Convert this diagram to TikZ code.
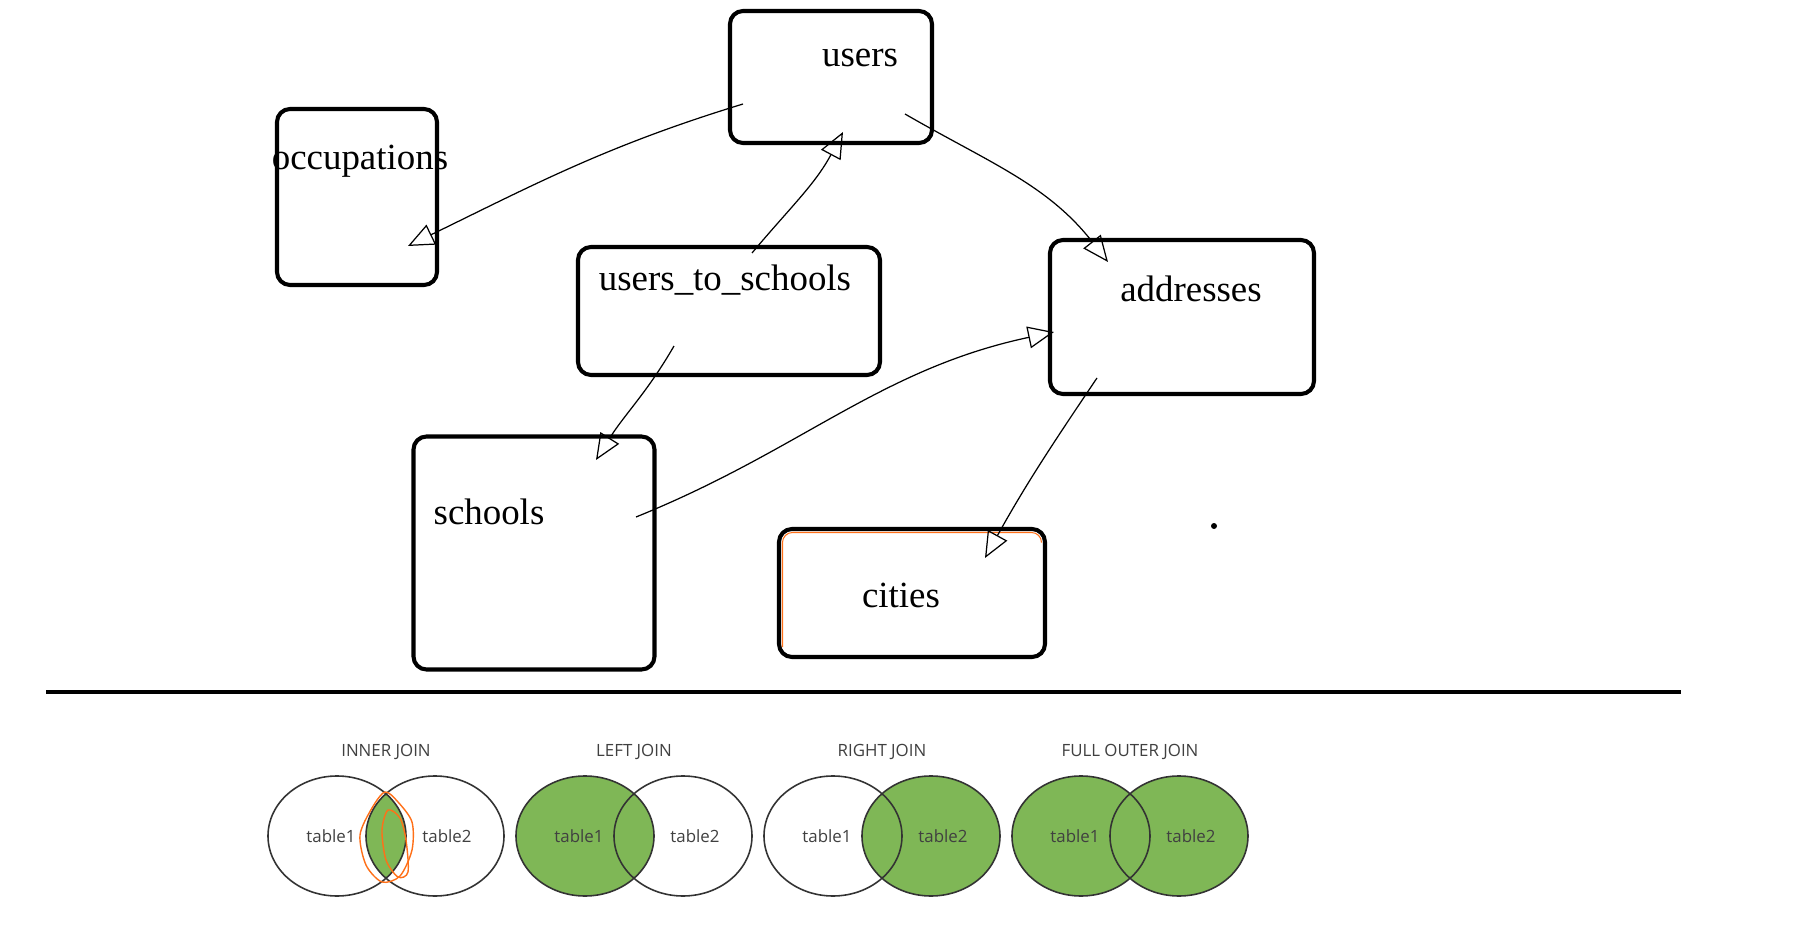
\documentclass[tikz,border=0pt]{standalone}
\usepackage{fontspec}
\setmainfont{Liberation Serif}
\newfontfamily\vennfont{Open Sans}
\usepackage{tikz}
\usetikzlibrary{
  arrows.meta,
  positioning
}
\definecolor{venngreen}{RGB}{127,183,86}
\definecolor{scribble}{RGB}{255,112,24}

\begin{document}
\begin{tikzpicture}[
  table/.style={
    rectangle,
    draw=black,
    rounded corners=0.13cm,
    line width=1.15pt,
    inner sep=0pt,
  },
  tname/.style={
    font=\fontsize{10.5}{12}\selectfont,
    inner sep=0pt,
  },
  link/.style={-{Triangle[open, length=0.26cm, width=0.22cm]}, line width=0.35pt, black},
  venn/.style={draw=black!80, line width=0.45pt},
  vennlabel/.style={
    font=\vennfont\fontsize{4.8}{6}\selectfont,
    text=black!75,
    inner sep=0pt,
  },
  pen/.style={draw=scribble, line width=0.4pt},
]

\path[use as bounding box, fill=white] (0,0) rectangle (18.20,-9.38);

% ── Tables ──
\node[table, minimum width=1.60cm, minimum height=1.76cm] (occupations) at (3.57,-1.97) {};
\node[tname] (occupations-lbl) at (3.60,-1.61) {occupations};

\node[table, minimum width=2.02cm, minimum height=1.32cm] (users) at (8.31,-0.77) {};
\node[tname] (users-lbl) at (8.60,-0.58) {users};

\node[table, minimum width=3.02cm, minimum height=1.28cm] (uts) at (7.29,-3.11) {};
\node[tname] (uts-lbl) at (7.25,-2.80) {users\_to\_schools};

\node[table, minimum width=2.64cm, minimum height=1.54cm] (addresses) at (11.82,-3.17) {};
\node[tname] (addresses-lbl) at (11.91,-2.89) {addresses};

\node[table, minimum width=2.41cm, minimum height=2.33cm] (schools) at (5.34,-5.53) {};
\node[tname] (schools-lbl) at (4.89,-5.12) {schools};

\node[table, minimum width=2.66cm, minimum height=1.28cm] (cities) at (9.12,-5.93) {};
\node[tname] (cities-lbl) at (9.01,-5.95) {cities};
\draw[pen, line width=0.3pt, rounded corners=0.1cm]
  (7.825,-6.47) -- (7.825,-5.325) -- (10.415,-5.325) -- (10.415,-5.42);

\node[circle, fill=black, inner sep=0pt, minimum size=0.06cm] (dot) at (12.14,-5.26) {};

% ── Arrow ends ──
\coordinate (users-out-o) at (7.43,-1.04);
\coordinate (occupations-in) at (4.08,-2.46);
\coordinate (uts-out-u) at (7.52,-2.53);
\coordinate (users-in) at (8.43,-1.32);
\coordinate (users-out-a) at (9.05,-1.14);
\coordinate (addresses-in-u) at (11.08,-2.62);
\coordinate (uts-out-s) at (6.74,-3.46);
\coordinate (schools-in) at (5.96,-4.60);
\coordinate (schools-out) at (6.36,-5.17);
\coordinate (addresses-in-s) at (10.54,-3.32);
\coordinate (addresses-out) at (10.97,-3.78);
\coordinate (cities-in) at (9.85,-5.58);

% ── Links ──
\draw[link] (users-out-o) to[out=197, in=26] (occupations-in);
\draw[link] (uts-out-u) to[out=50, in=242] (users-in);
\draw[link] (users-out-a) to[out=-30, in=128] (addresses-in-u);
\draw[link] (uts-out-s) to[out=240, in=58] (schools-in);
\draw[link] (schools-out) to[out=22, in=192] (addresses-in-s);
\draw[link] (addresses-out) to[out=236, in=61] (cities-in);

% ── Separator ──
\draw[line width=1pt] (0.46,-6.92) -- (16.81,-6.92);

% ── Inner join ──
\begin{scope}
  \clip (3.37,-8.36) ellipse (0.69 and 0.60);
  \fill[venngreen] (4.35,-8.36) ellipse (0.69 and 0.60);
\end{scope}
\draw[venn] (3.37,-8.36) ellipse (0.69 and 0.60);
\draw[venn] (4.35,-8.36) ellipse (0.69 and 0.60);
\draw[pen] plot[smooth cycle] coordinates {(3.85,-7.92) (3.72,-8.08) (3.60,-8.35) (3.66,-8.65)
  (3.82,-8.82) (4.00,-8.76) (4.12,-8.50) (4.12,-8.22) (3.98,-8.02)};
\draw[pen] plot[smooth cycle] coordinates {(3.88,-8.10) (3.82,-8.30) (3.86,-8.60) (3.98,-8.77)
  (4.08,-8.72) (4.06,-8.40) (4.00,-8.18)};
\node[vennlabel] (inner-title) at (3.86,-7.52) {INNER JOIN};
\node[vennlabel] (inner-t1) at (3.31,-8.36) {table1};
\node[vennlabel] (inner-t2) at (4.47,-8.36) {table2};

% ── Left join ──
\fill[venngreen] (5.85,-8.36) ellipse (0.69 and 0.60);
\draw[venn] (5.85,-8.36) ellipse (0.69 and 0.60);
\draw[venn] (6.83,-8.36) ellipse (0.69 and 0.60);
\node[vennlabel] (left-title) at (6.34,-7.52) {LEFT JOIN};
\node[vennlabel] (left-t1) at (5.79,-8.36) {table1};
\node[vennlabel] (left-t2) at (6.95,-8.36) {table2};

% ── Right join ──
\fill[venngreen] (9.31,-8.36) ellipse (0.69 and 0.60);
\draw[venn] (8.33,-8.36) ellipse (0.69 and 0.60);
\draw[venn] (9.31,-8.36) ellipse (0.69 and 0.60);
\node[vennlabel] (right-title) at (8.82,-7.52) {RIGHT JOIN};
\node[vennlabel] (right-t1) at (8.27,-8.36) {table1};
\node[vennlabel] (right-t2) at (9.43,-8.36) {table2};

% ── Full outer join ──
\fill[venngreen] (10.81,-8.36) ellipse (0.69 and 0.60);
\fill[venngreen] (11.79,-8.36) ellipse (0.69 and 0.60);
\draw[venn] (10.81,-8.36) ellipse (0.69 and 0.60);
\draw[venn] (11.79,-8.36) ellipse (0.69 and 0.60);
\node[vennlabel] (full-title) at (11.30,-7.52) {FULL OUTER JOIN};
\node[vennlabel] (full-t1) at (10.75,-8.36) {table1};
\node[vennlabel] (full-t2) at (11.91,-8.36) {table2};

\end{tikzpicture}
\end{document}
